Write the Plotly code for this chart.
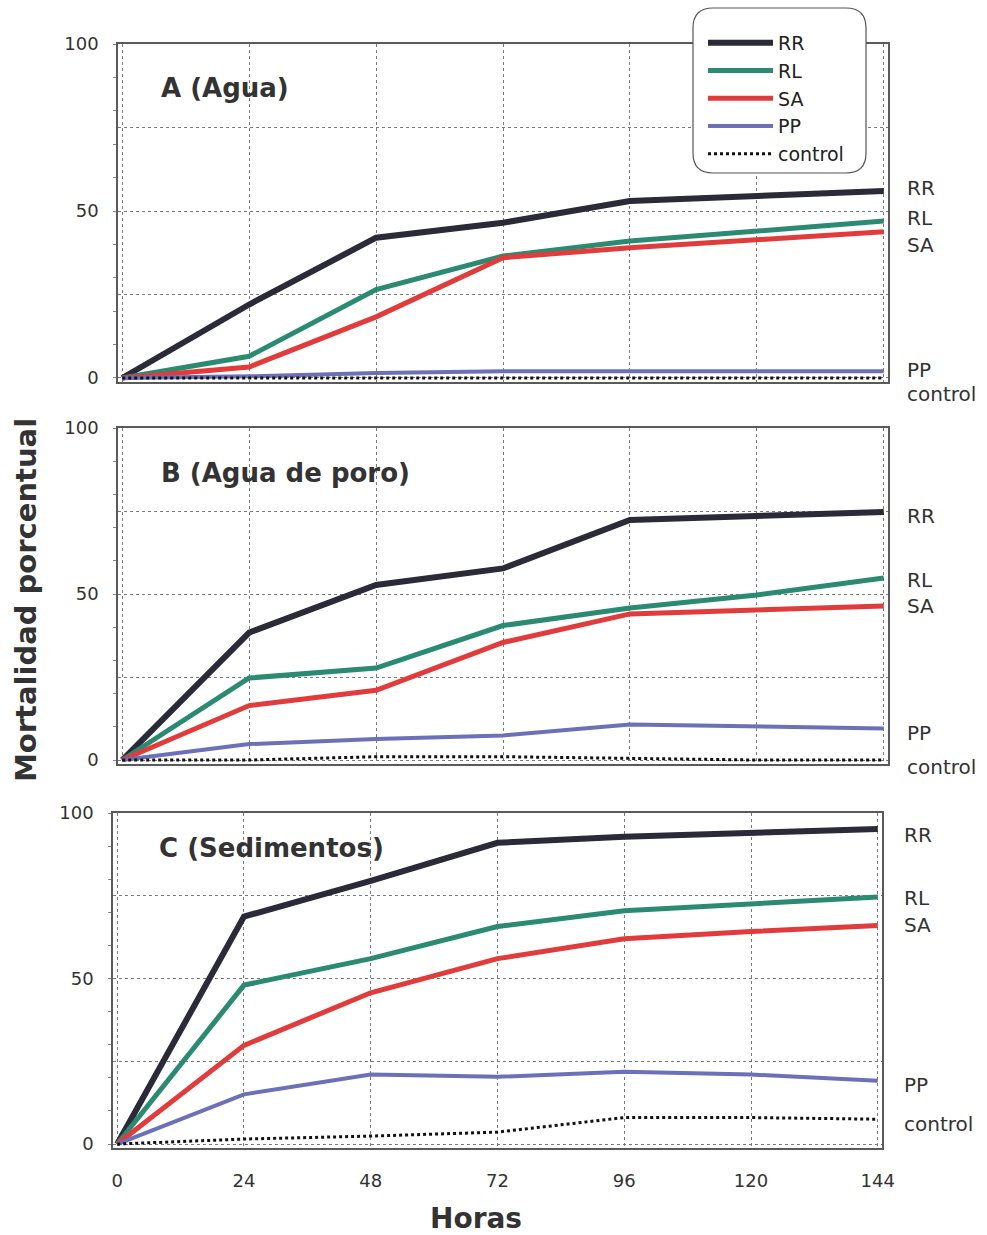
import plotly.graph_objects as go

W, H = 987, 1235

horas = [0, 24, 48, 72, 96, 120, 144]
series = ["RR", "RL", "SA", "PP", "control"]

# Panel A (Agua)
a_RR = [0, 22, 42, 46.5, 53, 54.5, 56]
a_RL = [0, 6.5, 26.5, 36.5, 41, 44, 47]
a_SA = [0, 3.3, 18.3, 36, 39, 41.5, 43.8]
a_PP = [0, 0.5, 1.5, 2, 2, 2, 2]
a_control = [0, 0, 0, 0, 0, 0, 0]

# Panel B (Agua de poro)
b_RR = [0, 38.4, 52.7, 57.7, 72.3, 73.5, 74.7]
b_RL = [0, 24.7, 27.7, 40.5, 45.8, 49.7, 54.8]
b_SA = [0, 16.4, 21, 35.4, 44, 45.2, 46.4]
b_PP = [0, 4.8, 6.3, 7.4, 10.7, 10, 9.5]
b_control = [0, 0, 1, 1, 0.5, 0, 0]

# Panel C (Sedimentos)
c_RR = [0, 68.7, 79.5, 91, 92.8, 94, 95.2]
c_RL = [0, 48, 56, 65.7, 70.5, 72.5, 74.6]
c_SA = [0, 29.8, 45.7, 56, 62, 64.2, 66]
c_PP = [0, 15, 21, 20.3, 21.8, 21, 19.1]
c_control = [0, 1.5, 2.4, 3.6, 8, 8, 7.5]

panel_titles = ["A (Agua)", "B (Agua de poro)", "C (Sedimentos)"]
x_ticks = [0, 24, 48, 72, 96, 120, 144]
y_tickvals = [0, 25, 50, 75, 100]
y_ticktext = ["0", "", "50", "", "100"]

panels = [
    dict(RR=a_RR, RL=a_RL, SA=a_SA, PP=a_PP, control=a_control),
    dict(RR=b_RR, RL=b_RL, SA=b_SA, PP=b_PP, control=b_control),
    dict(RR=c_RR, RL=c_RL, SA=c_SA, PP=c_PP, control=c_control),
]

styles = {
    "RR": dict(color="#2a2a38", width=6),
    "RL": dict(color="#2a8a72", width=5),
    "SA": dict(color="#e23b3b", width=5),
    "PP": dict(color="#6b70b8", width=4),
    "control": dict(color="#111111", width=3, dash="dot"),
}

def px_x(p):
    return p / W

def px_y(p):
    return 1 - p / H

# plot-area pixel boxes (left, right, top, bottom)
boxes = [(118, 888, 44, 382), (118, 888, 428, 764), (113, 882, 813, 1148)]

fig = go.Figure()
for i, data in enumerate(panels):
    ax = "" if i == 0 else str(i + 1)
    for s in series:
        fig.add_trace(go.Scatter(
            x=horas, y=data[s], mode="lines", name=s,
            line=dict(shape="linear", **styles[s]),
            xaxis="x" + ax, yaxis="y" + ax,
            showlegend=(i == 0), legendgroup=s,
            hoverinfo="x+y+name",
        ))

reg = "DejaVu Sans, sans-serif"
bold = "DejaVu Sans, sans-serif"
txt_col = "#333333"

layout = dict(
    width=W, height=H,
    margin=dict(l=0, r=0, t=0, b=0),
    paper_bgcolor="white", plot_bgcolor="white",
    font=dict(family=reg, color=txt_col),
    showlegend=True,
    legend=dict(
        x=px_x(703), y=px_y(24), xanchor="left", yanchor="top",
        bgcolor="rgba(0,0,0,0)", borderwidth=0,
        font=dict(size=19, color="#222222", family=reg),
        tracegroupgap=0, itemwidth=65,
    ),
)

for i, (l, r, t, b) in enumerate(boxes):
    ax = "" if i == 0 else str(i + 1)
    layout["xaxis" + ax] = dict(
        domain=[px_x(l), px_x(r)], range=[-0.8, 144.8],
        anchor="y" + ax,
        tickvals=x_ticks, showticklabels=(i == 2),
        tickfont=dict(size=18, color=txt_col, family=reg),
        ticklabelstandoff=16,
        ticks="", showgrid=True, gridcolor="#7a7a7a", gridwidth=1,
        griddash="dot", zeroline=False,
        showline=True, mirror=True, linecolor="#5a5a5a", linewidth=1.5,
        automargin=False, fixedrange=True,
    )
    layout["yaxis" + ax] = dict(
        domain=[px_y(b), px_y(t)], range=[-1.2, 100],
        anchor="x" + ax,
        tickvals=y_tickvals, ticktext=y_ticktext,
        tickfont=dict(size=18, color=txt_col, family=reg),
        ticklabelstandoff=14,
        ticks="", showgrid=True, gridcolor="#7a7a7a", gridwidth=1,
        griddash="dot", zeroline=False,
        showline=True, mirror=True, linecolor="#5a5a5a", linewidth=1.5,
        minor=dict(dtick=10, tick0=0, ticks="outside", ticklen=3,
                   tickcolor="#888888", showgrid=False),
        automargin=False, fixedrange=True,
    )

annotations = []
# panel titles (pixel positions: left x, centre y)
title_pos = [(159, 88), (159, 473), (157, 848)]
for txt, (tx, ty) in zip(panel_titles, title_pos):
    annotations.append(dict(
        text="<b>" + txt + "</b>", x=px_x(tx), y=px_y(ty),
        xref="paper", yref="paper", xanchor="left", yanchor="middle",
        showarrow=False, font=dict(size=26, color=txt_col, family=bold),
    ))

# right-side series labels (pixel centre y)
label_y = [
    [188, 218, 245, 370, 394],
    [516, 580, 606, 733, 767],
    [835, 898, 925, 1085, 1124],
]
label_x = [905, 905, 902]
for i in range(3):
    for s, ly in zip(series, label_y[i]):
        annotations.append(dict(
            text=s, x=px_x(label_x[i]), y=px_y(ly),
            xref="paper", yref="paper", xanchor="left", yanchor="middle",
            showarrow=False, font=dict(size=20, color=txt_col, family=reg),
        ))

annotations.append(dict(
    text="<b>Mortalidad porcentual</b>", x=px_x(26), y=px_y(600),
    xref="paper", yref="paper", xanchor="center", yanchor="middle",
    textangle=-90, showarrow=False, font=dict(size=29, color=txt_col, family=bold),
))
annotations.append(dict(
    text="<b>Horas</b>", x=px_x(476), y=px_y(1218),
    xref="paper", yref="paper", xanchor="center", yanchor="middle",
    showarrow=False, font=dict(size=28, color=txt_col, family=bold),
))
layout["annotations"] = annotations

# rounded legend box
x0, x1, y0, y1, rr = 693, 866, 8, 173, 20
def P(x, y):
    return f"{px_x(x):.5f},{px_y(y):.5f}"
path = (
    f"M {P(x0 + rr, y0)} L {P(x1 - rr, y0)} Q {P(x1, y0)} {P(x1, y0 + rr)} "
    f"L {P(x1, y1 - rr)} Q {P(x1, y1)} {P(x1 - rr, y1)} "
    f"L {P(x0 + rr, y1)} Q {P(x0, y1)} {P(x0, y1 - rr)} "
    f"L {P(x0, y0 + rr)} Q {P(x0, y0)} {P(x0 + rr, y0)} Z"
)
layout["shapes"] = [dict(
    type="path", path=path, xref="paper", yref="paper",
    fillcolor="white", line=dict(color="#555555", width=1.2), layer="above",
)]

fig.update_layout(**layout)
fig.write_html("out.html")
